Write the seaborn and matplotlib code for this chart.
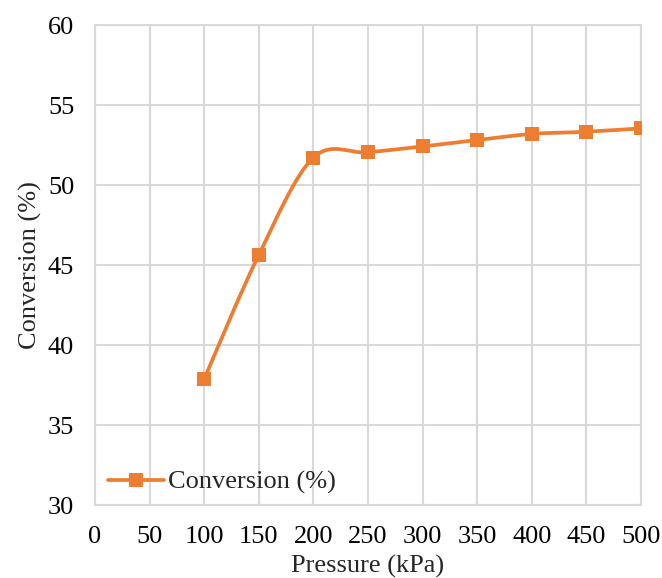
import numpy as np
import pandas as pd
import matplotlib
matplotlib.use("Agg")
import matplotlib.pyplot as plt
from matplotlib.path import Path
from matplotlib.patches import PathPatch
from matplotlib.lines import Line2D
import seaborn as sns

# Conversion measured at each operating pressure
pressure_kpa = [100, 150, 200, 250, 300, 350, 400, 450, 500]
conversion_pct = [37.87, 45.63, 51.71, 52.04, 52.41, 52.81, 53.19, 53.33, 53.54]

x_ticks = [0, 50, 100, 150, 200, 250, 300, 350, 400, 450, 500]
y_ticks = [30, 35, 40, 45, 50, 55, 60]

series_label = "Conversion (%)"
x_label = "Pressure (kPa)"
y_label = "Conversion (%)"

ORANGE = "#ED7D31"
GRID = "#D9D9D9"
FS = 19

df = pd.DataFrame({"pressure": pressure_kpa, "conversion": conversion_pct})

sns.set_theme(style="white")
plt.rcParams["font.family"] = ["Liberation Serif", "DejaVu Serif"]

fig = plt.figure(figsize=(6.62, 5.78), dpi=100)
ax = fig.add_axes([95 / 662, 1 - 505 / 578, (641 - 95) / 662, (505 - 25) / 578])

ax.set_xlim(0, 500)
ax.set_ylim(30, 60)
ax.set_xticks(x_ticks)
ax.set_yticks(y_ticks)
ax.grid(True, color=GRID, linewidth=1.5)
ax.set_axisbelow(True)
for side in ["left", "bottom", "top", "right"]:
    ax.spines[side].set_visible(True)
    ax.spines[side].set_color(GRID)
    ax.spines[side].set_linewidth(1.5)

# Smoothed connecting curve: cubic Bezier segments with Catmull-Rom style tangents
pts = df[["pressure", "conversion"]].to_numpy(dtype=float)
padded = np.vstack([pts[0], pts, pts[-1]])
verts = [tuple(pts[0])]
codes = [Path.MOVETO]
for i in range(1, len(padded) - 2):
    p0, p1, p2, p3 = padded[i - 1], padded[i], padded[i + 1], padded[i + 2]
    c1 = p1 + (p2 - p0) / 6.0
    c2 = p2 - (p3 - p1) / 6.0
    verts += [tuple(c1), tuple(c2), tuple(p2)]
    codes += [Path.CURVE4, Path.CURVE4, Path.CURVE4]
curve = PathPatch(Path(verts, codes), facecolor="none", edgecolor=ORANGE,
                  linewidth=2.7, capstyle="round", joinstyle="round", zorder=3)
ax.add_patch(curve)

sns.scatterplot(data=df, x="pressure", y="conversion", marker="s", s=110,
                color=ORANGE, edgecolor=ORANGE, linewidth=0, ax=ax, zorder=4,
                legend=False)

ax.set_xlabel(x_label, fontsize=FS, labelpad=5)
ax.set_ylabel(y_label, fontsize=FS, labelpad=4)
ax.tick_params(axis="both", which="both", length=0, labelsize=FS, colors="black")
ax.tick_params(axis="x", pad=15)
ax.tick_params(axis="y", pad=15)
for lbl in ax.get_yticklabels():
    lbl.set_horizontalalignment("right")

handle = Line2D([], [], color=ORANGE, linewidth=2.7, marker="s", markersize=10,
                markeredgewidth=0)
ax.legend([handle], [series_label], loc="lower left", bbox_to_anchor=(0.0, -0.005),
          frameon=False, fontsize=FS, handlelength=2.1, handletextpad=0.15,
          borderaxespad=0.3, borderpad=0.2)

fig.savefig("out.png", dpi=100)
